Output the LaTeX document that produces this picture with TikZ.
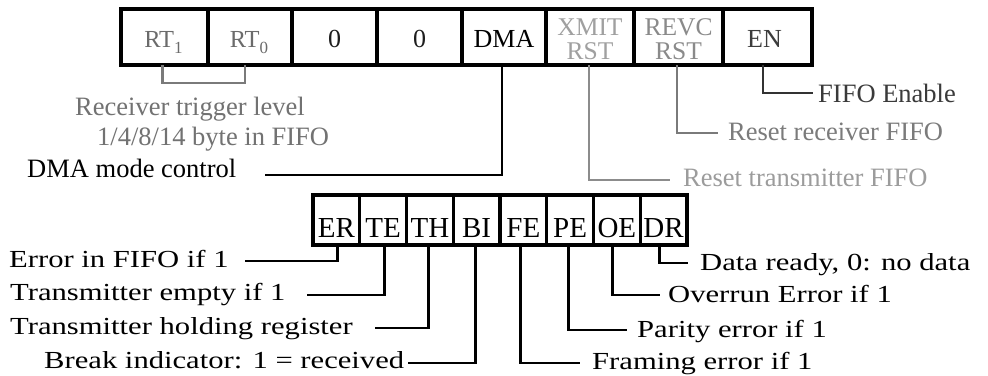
\documentclass[tikz,border=0pt]{standalone}
\usepackage{fontspec}
\setmainfont{Liberation Serif}
\newfontfamily\botfont[FakeStretch=1.25]{Liberation Serif}
\definecolor{gRT}{HTML}{6B6B6B}
\definecolor{gRecvTxt}{HTML}{727272}
\definecolor{gBracket}{HTML}{7A7A7A}
\definecolor{gXmitTxt}{HTML}{A0A0A0}
\definecolor{gXmitLine}{HTML}{8C8C8C}
\definecolor{gTransLab}{HTML}{9C9C9C}
\definecolor{gRevcTxt}{HTML}{8A8A8A}
\definecolor{gRevcLine}{HTML}{7A7A7A}
\definecolor{gRecvLab}{HTML}{7B7B7B}
\definecolor{gEnTxt}{HTML}{3C3C3C}
\definecolor{gEnLine}{HTML}{333333}
\definecolor{gEnLab}{HTML}{3A3A3A}
\definecolor{gZero}{HTML}{1E1E1E}
\begin{document}
\begin{tikzpicture}[x=1pt,y=-1pt,
  regtop/.style={draw, line width=3.2pt, minimum height=56pt, inner sep=0pt, outer sep=0pt, anchor=north west},
  regbot/.style={draw, line width=3.2pt, minimum height=50pt, minimum width=46.75pt, inner sep=0pt, outer sep=0pt, anchor=north west},
  toptxt/.style={anchor=base, inner sep=0pt, font=\fontsize{26}{26}\selectfont},
  twotxt/.style={anchor=base, inner sep=0pt, align=center, font=\fontsize{25.5}{24}\selectfont},
  bottxt/.style={anchor=base, inner sep=0pt, font=\fontsize{29}{29}\selectfont},
  toplab/.style={anchor=base west, inner sep=0pt, font=\fontsize{26.5}{30}\selectfont},
  botlab/.style={anchor=base west, inner sep=0pt, font=\botfont\fontsize{24.5}{28}\selectfont},
  blackconn/.style={draw, line width=2.8pt},
  grayconn/.style={draw, line width=2.4pt}
]
\useasboundingbox (0,0) rectangle (988,375);
\fill[white] (0,0) rectangle (988,375);

\coordinate (topbase) at (0,47);
\coordinate (twobase) at (0,59);
\coordinate (botbase) at (0,237);

% ---------- top register ----------
\node[regtop, minimum width=87pt] (rt1) at (121,9) {};
\node[regtop, minimum width=84pt] (rt0) at (208,9) {};
\node[regtop, minimum width=85pt] (z1) at (292,9) {};
\node[regtop, minimum width=85pt] (z2) at (377,9) {};
\node[regtop, minimum width=84pt] (dma) at (462,9) {};
\node[regtop, minimum width=88pt] (xmit) at (546,9) {};
\node[regtop, minimum width=89pt] (revc) at (634,9) {};
\node[regtop, minimum width=89pt] (en) at (723,9) {};

\node[toptxt, text=gRT, font=\fontsize{24.5}{24}\selectfont] (rt1t) at ([xshift=-1pt]rt1.center |- topbase) {RT\raisebox{-6pt}{\fontsize{17}{17}\selectfont 1}};
\node[toptxt, text=gRT, font=\fontsize{24.5}{24}\selectfont] (rt0t) at ([xshift=-1pt]rt0.center |- topbase) {RT\raisebox{-6pt}{\fontsize{17}{17}\selectfont 0}};
\node[toptxt, text=gZero] (z1t) at (z1.center |- topbase) {0};
\node[toptxt, text=gZero] (z2t) at (z2.center |- topbase) {0};
\node[toptxt] (dmat) at (dma.center |- topbase) {DMA};
\node[twotxt, text=gXmitTxt] (xmitt) at (xmit.center |- twobase) {XMIT\\RST};
\node[twotxt, text=gRevcTxt] (revct) at (revc.center |- twobase) {REVC\\RST};
\node[toptxt, text=gEnTxt] (ent) at ([xshift=-3pt]en.center |- topbase) {EN};

% RT bracket
\draw[grayconn, draw=gBracket] ([xshift=-2pt]rt1.south) -- ++(0,18) -| ([xshift=-5pt]rt0.south);
\node[toplab, text=gRecvTxt] (recvl1) at (75,115) {Receiver trigger level};
\node[toplab, text=gRecvTxt] (recvl2) at (97,145) {1/4/8/14 byte in FIFO};

% DMA
\coordinate (dmaEnd) at (265,175);
\draw[blackconn] ([xshift=-2pt]dma.south) |- (dmaEnd);
\node[toplab] (dmal) at (27,177) {DMA mode control};

% XMIT
\coordinate (xmitEnd) at (670,180);
\draw[grayconn, draw=gXmitLine] ([xshift=-1pt]xmit.south) |- (xmitEnd);
\node[toplab, text=gTransLab] (xmitl) at (683,186) {Reset transmitter FIFO};

% REVC
\coordinate (revcEnd) at (718,133);
\draw[grayconn, line width=2.6pt, draw=gRevcLine] ([xshift=-1.5pt]revc.south) |- (revcEnd);
\node[toplab, text=gRecvLab] (revcl) at (728,140) {Reset receiver FIFO};

% EN
\coordinate (enEnd) at (813,93);
\draw[blackconn, draw=gEnLine] ([xshift=-4.5pt]en.south) |- (enEnd);
\node[toplab, text=gEnLab] (enl) at (818,102) {FIFO Enable};

% ---------- bottom register ----------
\foreach \i/\t in {0/ER,1/TE,2/TH,3/BI,4/FE,5/PE,6/OE,7/DR}{
  \node[regbot] (b\t) at ({313+\i*46.75},195) {};
  \node[bottxt] (b\t t) at (b\t.center |- botbase) {\t};
}

\coordinate (erEnd) at (245,261);
\draw[blackconn] ([xshift=1.5pt]bER.south) |- (erEnd);
\node[botlab] (erl) at (9,267) {Error in FIFO if 1};

\coordinate (teEnd) at (307,295);
\draw[blackconn] ([xshift=1.5pt]bTE.south) |- (teEnd);
\node[botlab] (tel) at (10,300) {Transmitter empty if 1};

\coordinate (thEnd) at (375,328);
\draw[blackconn] ([xshift=-1.5pt]bTH.south) |- (thEnd);
\node[botlab] (thl) at (10,334) {Transmitter holding register};

\coordinate (biEnd) at (408,363);
\draw[blackconn] ([xshift=-1.5pt]bBI.south) |- (biEnd);
\node[botlab] (bil) at (44,368) {Break indicator: 1 = received};

\coordinate (feEnd) at (580,363);
\draw[blackconn] ([xshift=-3pt]bFE.south) |- (feEnd);
\node[botlab] (fel) at (592,369) {Framing error if 1};

\coordinate (peEnd) at (627,330);
\draw[blackconn] ([xshift=-2pt]bPE.south) |- (peEnd);
\node[botlab] (pel) at (637,337) {Parity error if 1};

\coordinate (oeEnd) at (660,295);
\draw[blackconn] ([xshift=-4pt]bOE.south) |- (oeEnd);
\node[botlab] (oel) at (668,302) {Overrun Error if 1};

\coordinate (drEnd) at (688,263);
\draw[blackconn] ([xshift=-4pt]bDR.south) |- (drEnd);
\node[botlab] (drl) at (700,270) {Data ready, 0: no data};
\end{tikzpicture}
\end{document}
